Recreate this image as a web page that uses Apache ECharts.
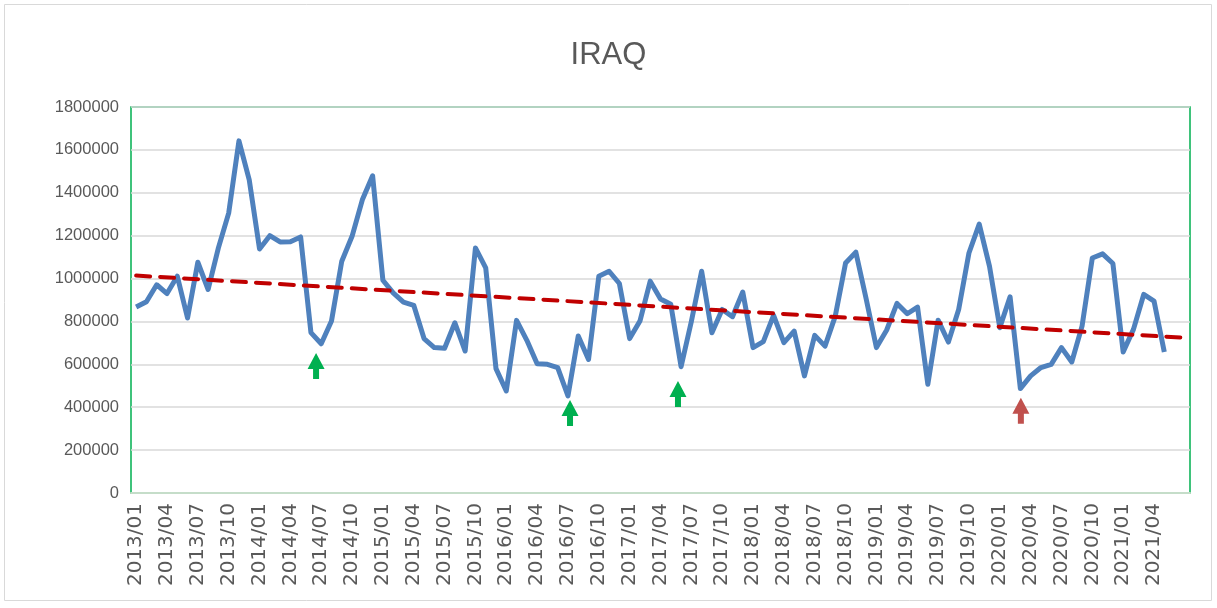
<!DOCTYPE html>
<html>
	<head>
		<meta charset="utf-8">
		<title>IRAQ</title>
		<script type="text/javascript" src="https://cdn.jsdelivr.net/npm/echarts@6/dist/echarts.min.js"></script>
	</head>
	<body style="margin:0;background:#fff;">
		<div id="main" style="width:1217px;height:608px;"></div>
	</body>
	<script type="text/javascript">
	        // monthly categories 2013/01 .. 2021/07 (axis runs two months past the data)
	        var months = [];
	        for (var y = 2013; y <= 2021; y++) {
	            for (var m = 1; m <= 12; m++) {
	                if (y == 2021 && m > 7) break;
	                months.push(y + '/' + (m < 10 ? '0' + m : m));
	            }
	        }

	        // values, 2013/01 .. 2021/05
	        var values = [
	            867000, 892000, 971000, 930000, 1011000, 816000, 1076000, 949000, 1143000, 1305000, 1642000, 1460000,
	            1138000, 1200000, 1171000, 1172000, 1194000, 748000, 696000, 802000, 1081000, 1197000, 1367000, 1479000,
	            992000, 933000, 890000, 875000, 720000, 678000, 675000, 794000, 662000, 1143000, 1050000, 580000,
	            476000, 805000, 712000, 603000, 600000, 585000, 453000, 732000, 623000, 1011000, 1034000, 977000,
	            720000, 802000, 988000, 905000, 880000, 589000, 800000, 1034000, 747000, 856000, 822000, 937000,
	            678000, 706000, 828000, 701000, 755000, 546000, 735000, 685000, 825000, 1073000, 1123000, 906000,
	            678000, 760000, 884000, 836000, 867000, 507000, 806000, 704000, 856000, 1119000, 1254000, 1057000,
	            771000, 915000, 487000, 546000, 585000, 600000, 678000, 611000, 778000, 1096000, 1115000, 1070000,
	            658000, 763000, 926000, 895000, 658000
	        ];

	        // linear trend, start and end of the dashed line
	        var trend = [['2013/01', 1014000], ['2021/07', 724000]];

	        // arrow marks [month index, value at arrow centre]
	        var greenArrows = [[17.5, 592000], [42.2, 373000], [52.7, 462000]];
	        var redArrows = [[86.05, 384000]];

	        var arrowPath = 'path://M8.5,0 L17,16 L11.5,16 L11.5,26 L5.5,26 L5.5,16 L0,16 Z';

	        var myChart = echarts.init(document.getElementById('main'));
	        myChart.setOption({
	            animation: false,
	            title: {
	                text: 'IRAQ',
	                left: 'center',
	                top: 35,
	                textStyle: { fontFamily: 'Liberation Sans', fontSize: 31, fontWeight: 'normal', color: '#595959' }
	            },
	            graphic: [{
	                type: 'rect',
	                shape: { x: 4.5, y: 4.5, width: 1207, height: 596 },
	                style: { fill: 'none', stroke: '#D9D9D9', lineWidth: 1 },
	                silent: true
	            }],
	            grid: {
	                left: 131,
	                right: 27,
	                top: 107,
	                bottom: 115,
	                show: true,
	                borderColor: '#00B050',
	                borderWidth: 1.5
	            },
	            xAxis: [{
	                type: 'category',
	                data: months,
	                boundaryGap: true,
	                axisLine: { lineStyle: { color: '#C5DDC9', width: 2 } },
	                axisTick: { show: false },
	                axisLabel: {
	                    interval: function (index) { return index % 3 === 0 && index < 100; },
	                    rotate: 90,
	                    margin: 10,
	                    fontFamily: 'DejaVu Sans',
	                    fontSize: 20,
	                    color: '#595959'
	                }
	            }, {
	                // hidden helper axis so the arrows can sit between months
	                type: 'value',
	                min: -0.5,
	                max: 102.5,
	                show: false
	            }],
	            yAxis: {
	                type: 'value',
	                min: 0,
	                max: 1800000,
	                interval: 200000,
	                axisLine: { show: false },
	                axisTick: { show: false },
	                axisLabel: {
	                    margin: 12,
	                    fontFamily: 'Liberation Sans',
	                    fontSize: 16.5,
	                    color: '#595959',
	                    formatter: function (v) { return String(v); }
	                },
	                splitLine: { lineStyle: { color: '#D9D9D9', width: 1.5 } }
	            },
	            series: [
	                {
	                    name: 'IRAQ',
	                    type: 'line',
	                    data: values,
	                    symbol: 'none',
	                    lineStyle: { color: '#4F81BD', width: 5, join: 'round' },
	                    z: 3
	                },
	                {
	                    name: 'trend',
	                    type: 'line',
	                    data: trend,
	                    symbol: 'none',
	                    lineStyle: { color: '#C00000', width: 4, type: [14, 10], cap: 'round' },
	                    z: 4
	                },
	                {
	                    name: 'up',
	                    type: 'scatter',
	                    xAxisIndex: 1,
	                    data: greenArrows,
	                    symbol: arrowPath,
	                    symbolSize: [17, 26],
	                    itemStyle: { color: '#00B050', opacity: 1 },
	                    z: 5
	                },
	                {
	                    name: 'down',
	                    type: 'scatter',
	                    xAxisIndex: 1,
	                    data: redArrows,
	                    symbol: arrowPath,
	                    symbolSize: [17, 26],
	                    itemStyle: { color: '#C0504D', opacity: 1 },
	                    z: 5
	                }
	            ]
	        });
	    </script>
</html>
